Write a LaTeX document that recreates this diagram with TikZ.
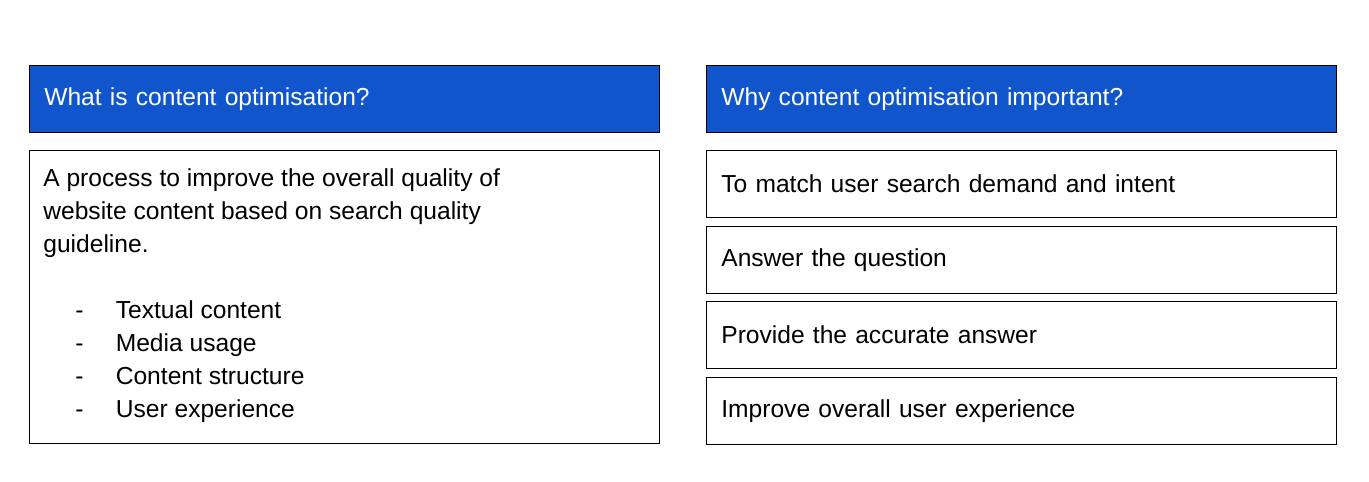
\documentclass[tikz,border=0pt]{standalone}
\usepackage{fontspec}
\setmainfont{Liberation Sans}
\definecolor{headblue}{HTML}{1155CC}
\begin{document}
\begin{tikzpicture}[x=0.02cm,y=-0.02cm,
  head/.style={draw=black, fill=headblue, text=white, anchor=north west, minimum width=12.6cm, minimum height=1.34cm, text width=12.0cm, inner xsep=0.3cm, align=left, font=\fontsize{14}{18}\selectfont},
  item/.style={draw=black, anchor=north west, minimum width=12.6cm, minimum height=1.34cm, text width=12.0cm, inner xsep=0.3cm, align=left, font=\fontsize{14}{18}\selectfont},
  body/.style={anchor=north west, inner sep=0pt, align=left, font=\fontsize{14}{18.8}\selectfont}]
      \useasboundingbox (0,0) rectangle (1369,481);
      \node[head] (whathead) at (29,65) {What is content optimisation?};
      \node[head] (whyhead) at (706,65) {Why content optimisation important?};

      \node[draw=black, anchor=north west, minimum width=12.6cm, minimum height=5.86cm] (whatbox) at (29,150) {};
      \node[body] (whattext) at (43,168) {A process to improve the overall quality of\\website content based on search quality\\guideline.\\[18.8pt]
        \makebox[1.45cm][c]{-}Textual content\\
        \makebox[1.45cm][c]{-}Media usage\\
        \makebox[1.45cm][c]{-}Content structure\\
        \makebox[1.45cm][c]{-}User experience};

      \node[item] (match) at (706,150) {To match user search demand and intent};
      \node[item] (answer) at (706,226) {Answer the question};
      \node[item] (accurate) at (706,301) {Provide the accurate answer};
      \node[item] (improve) at (706,377) {Improve overall user experience};
\end{tikzpicture}
\end{document}
